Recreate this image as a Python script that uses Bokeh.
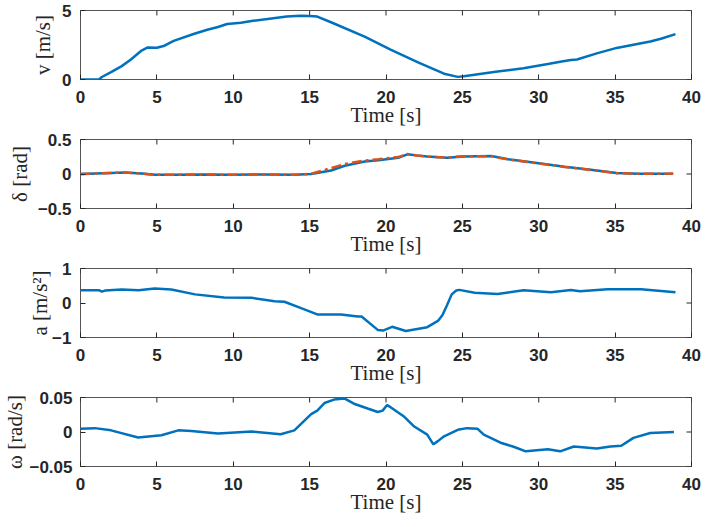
import math
from bokeh.plotting import figure
from bokeh.layouts import column
from bokeh.models import FixedTicker, Range1d
from bokeh.embed import file_html
from bokeh.resources import INLINE

# ---------------- data ----------------
t_v = [0, 1.2, 1.4, 2.0, 2.7, 3.3, 4.0, 4.4, 5.0, 5.5, 6.1, 7.4, 8.3, 9.0, 9.6,
       10.5, 11.3, 12.5, 13.5, 14.4, 15.0, 15.5, 16.4, 18.6, 20.3, 22.1, 23.8,
       24.7, 25.1, 27.3, 29.0, 30.6, 31.5, 32.1, 32.5, 33.8, 35.1, 37.3, 38.0, 38.95]
v = [0, 0, 0.18, 0.53, 0.97, 1.45, 2.1, 2.32, 2.3, 2.45, 2.8, 3.3, 3.6, 3.8, 4.02,
     4.12, 4.25, 4.42, 4.56, 4.62, 4.6, 4.56, 4.15, 3.1, 2.17, 1.24, 0.42,
     0.19, 0.23, 0.58, 0.82, 1.12, 1.3, 1.42, 1.45, 1.89, 2.29, 2.75, 2.95, 3.29]

t_d = [0, 1, 2, 2.9, 4.0, 4.9, 6, 8, 10, 12, 14, 15.1, 16.4, 17.3, 18.6, 19.5,
       20.8, 21.4, 22.0, 22.7, 24.0, 25.1, 26.9, 28.0, 29.5, 31.7, 33.4, 35.1,
       36.5, 38.8]
delta_act = [0, 0.008, 0.016, 0.02, 0.006, -0.012, -0.01, -0.008, -0.01, -0.006,
             -0.012, 0, 0.05, 0.12, 0.18, 0.2, 0.235, 0.285, 0.27, 0.255, 0.235,
             0.255, 0.26, 0.215, 0.17, 0.105, 0.06, 0.015, 0.005, 0.003]
delta_ref = [0, 0.008, 0.016, 0.022, 0.006, -0.012, -0.01, -0.008, -0.01, -0.006,
             -0.012, 0.005, 0.085, 0.145, 0.195, 0.215, 0.245, 0.29, 0.268, 0.252,
             0.238, 0.258, 0.258, 0.21, 0.168, 0.103, 0.058, 0.012, 0.004, 0.003]

t_a = [0, 1.2, 1.4, 1.6, 2.7, 3.8, 4.86, 5.95, 7.5, 9.4, 11.2, 12.7, 13.35, 14.44,
       15.5, 17.06, 18.15, 18.4, 19.46, 19.8, 20.4, 21.3, 22.7, 23.4, 23.7, 24.0,
       24.3, 24.6, 24.8, 25.8, 27.3, 29.0, 30.8, 32.1, 32.7, 34.5, 36.7, 38.95]
a = [0.37, 0.37, 0.33, 0.36, 0.39, 0.37, 0.42, 0.39, 0.25, 0.16, 0.15, 0.05, 0.036,
     -0.15, -0.33, -0.33, -0.39, -0.39, -0.78, -0.80, -0.69, -0.81, -0.70, -0.52,
     -0.35, -0.06, 0.25, 0.36, 0.38, 0.30, 0.26, 0.37, 0.31, 0.38, 0.34, 0.40, 0.40, 0.31]

t_w = [0, 0.93, 2.0, 3.77, 5.3, 6.4, 7.25, 9.0, 11.2, 13.1, 14.0, 15.1, 15.5, 15.97,
       16.6, 17.27, 17.9, 18.8, 19.46, 19.78, 20.07, 20.3, 21.2, 21.85, 22.7, 23.1,
       23.4, 23.8, 24.7, 25.3, 26.0, 26.4, 27.5, 28.4, 29.15, 30.6, 31.4, 32.3,
       33.8, 34.7, 35.4, 36.2, 37.3, 38.85]
omega = [0.0048, 0.0056, 0.0024, -0.0079, -0.0046, 0.0024, 0.0014, -0.0023, 0.0006,
         -0.0032, 0.0024, 0.026, 0.031, 0.042, 0.047, 0.0487, 0.041, 0.034, 0.029,
         0.031, 0.039, 0.036, 0.022, 0.0079, -0.0038, -0.0179, -0.0132, -0.0062,
         0.0032, 0.0056, 0.0046, -0.0038, -0.0155, -0.0217, -0.028, -0.025, -0.028,
         -0.021, -0.024, -0.021, -0.020, -0.0085, -0.0014, 0.0]

x_ticks = [0, 5, 10, 15, 20, 25, 30, 35, 40]
X_MAX = 40
BLUE = "#0072BD"
ORANGE = "#D95319"
TXT = "#262626"


def make_fig(ylim, yticks, ylabel, label_standoff, tick_standoff=9):
    p = figure(width=706, height=129, x_range=Range1d(0, X_MAX), y_range=Range1d(*ylim),
               output_backend="svg", toolbar_location=None,
               min_border_left=79, min_border_right=15, min_border_top=10,
               min_border_bottom=50)
    p.grid.visible = False
    p.outline_line_color = "#555555"
    p.outline_line_width = 1
    for ax in p.xaxis:
        ax.ticker = FixedTicker(ticks=x_ticks)
        ax.axis_label = "Time [s]"
        ax.major_label_standoff = 11
        ax.axis_label_standoff = -3
    for ax in p.yaxis:
        ax.ticker = FixedTicker(ticks=yticks)
        ax.axis_label = ylabel
        ax.major_label_standoff = tick_standoff
        ax.axis_label_standoff = label_standoff
    for ax in list(p.xaxis) + list(p.yaxis):
        ax.axis_line_color = None
        ax.major_tick_in = 5
        ax.major_tick_out = 0
        ax.minor_tick_line_color = None
        ax.major_tick_line_color = TXT
        ax.major_label_text_font = "Liberation Sans"
        ax.major_label_text_font_style = "bold"
        ax.major_label_text_font_size = "17px"
        ax.major_label_text_color = TXT
        ax.axis_label_text_font = "Liberation Serif"
        ax.axis_label_text_font_style = "normal"
        ax.axis_label_text_font_size = "21px"
        ax.axis_label_text_color = TXT
    # mirrored inward tick marks on the top and right edges (box on);
    # dashes centred on the edge are clipped to the frame, leaving 5px inside
    p.scatter(x=x_ticks, y=[ylim[1]] * len(x_ticks), marker="dash", size=10,
              angle=math.pi / 2, line_color=TXT, line_width=1)
    p.scatter(x=[X_MAX] * len(yticks), y=yticks, marker="dash", size=10,
              line_color=TXT, line_width=1)
    return p


p1 = make_fig((0, 5), [0, 5], "v [m/s]", 4)
p1.line(t_v, v, line_color=BLUE, line_width=2.5)

p2 = make_fig((-0.5, 0.5), [-0.5, 0, 0.5], "δ [rad]", 3)
p2.line(t_d, delta_act, line_color=BLUE, line_width=2.5)
p2.line(t_d, delta_ref, line_color=ORANGE, line_width=2.5, line_dash="10 4 3 4")

p3 = make_fig((-1, 1), [-1, 0, 1], "a [m/s²]", -3)
p3.line(t_a, a, line_color=BLUE, line_width=2.5)

p4 = make_fig((-0.05, 0.05), [-0.05, 0, 0.05], "ω [rad/s]", -1, tick_standoff=8)
p4.line(t_w, omega, line_color=BLUE, line_width=2.5)

layout = column(p1, p2, p3, p4, spacing=0)

open("out.html", "w").write(file_html(layout, INLINE))
